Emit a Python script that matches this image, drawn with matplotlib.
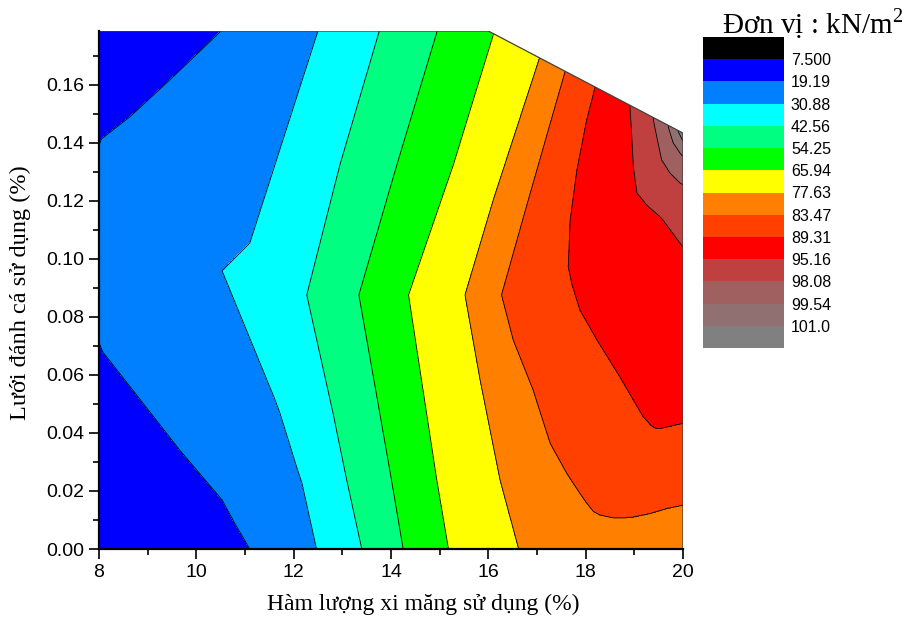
import numpy as np
import matplotlib
matplotlib.use("Agg")
from matplotlib import pyplot as plt
from matplotlib.patches import Polygon
from matplotlib.ticker import MultipleLocator, FormatStrFormatter

plt.rcParams['font.family'] = ['Liberation Sans', 'DejaVu Sans']
plt.rcParams['mathtext.fontset'] = 'custom'
plt.rcParams['mathtext.rm'] = 'Liberation Serif'

# contour levels (kN/m2) and fill colours (first one = below 7.5, last one = above 101)
levels = [7.5, 19.19, 30.88, 42.56, 54.25, 65.94, 77.63, 83.47, 89.31, 95.16, 98.08, 99.54, 101.0]
colors = ['#000000', '#0000ff', '#0080ff', '#00ffff', '#00ff80', '#00ff00', '#ffff00',
          '#ff8000', '#ff4000', '#ff0000', '#c04040', '#a06060', '#907070', '#808080']

# outline of the measured area (cement %, fishing-net %)
area_x = [8, 20, 20, 16, 8]
area_y = [0, 0, 0.1434, 0.1786, 0.1786]

# where each level line crosses a row: y of the row, x of the crossing
# level 7.5 lies left of the chart everywhere
l19_y = [0, 0.0089, 0.0169, 0.0341, 0.0679, 0.075, 0.10, 0.135, 0.1414, 0.1491, 0.1629, 0.1788, 0.19]
l19_x = [11.10, 10.79, 10.53, 9.66, 8.08, 7.90, 7.85, 7.90, 8.05, 8.64, 9.53, 10.52, 11.2]
l30_y = [0, 0.0228, 0.0284, 0.0468, 0.0514, 0.0959, 0.1055, 0.1786, 0.19]
l30_x = [12.47, 12.17, 12.06, 11.72, 11.62, 10.53, 11.10, 12.50, 12.72]
l42_y = [0, 0.0238, 0.0468, 0.0876, 0.1324, 0.1786, 0.19]
l42_x = [13.40, 13.09, 12.81, 12.27, 12.95, 13.76, 13.96]
l54_y = [0, 0.0238, 0.0468, 0.0876, 0.1324, 0.1786, 0.19]
l54_x = [14.25, 14.01, 13.77, 13.34, 14.12, 14.95, 15.15]
l65_y = [0, 0.0238, 0.0468, 0.0876, 0.1324, 0.1772, 0.19]
l65_x = [15.18, 14.94, 14.73, 14.36, 15.28, 16.10, 16.35]
l77_y = [0, 0.0238, 0.0583, 0.0876, 0.1203, 0.1692, 0.19]
l77_x = [16.62, 16.24, 15.83, 15.52, 16.10, 17.05, 17.45]
l83_y = [0, 0.0100, 0.0106, 0.0117, 0.0129, 0.0158, 0.0192, 0.0261, 0.0364, 0.0548, 0.0721, 0.0876, 0.1203, 0.1642, 0.19]
l83_x = [21, 21, 18.60, 18.29, 18.16, 18.02, 17.88, 17.61, 17.27, 16.92, 16.51, 16.27, 16.82, 17.57, 18.0]
l89_y = [0, 0.0410, 0.0415, 0.0425, 0.0456, 0.0594, 0.0721, 0.0824, 0.0916, 0.0973, 0.1134, 0.1307, 0.1479, 0.1589, 0.19]
l89_x = [22, 22, 19.45, 19.35, 19.18, 18.70, 18.23, 17.88, 17.71, 17.64, 17.68, 17.82, 18.02, 18.19, 18.7]
l95_y = [0, 0.1030, 0.1041, 0.1054, 0.1140, 0.1186, 0.1228, 0.1318, 0.1445, 0.1523, 0.19]
l95_x = [23, 23, 20.0, 19.94, 19.56, 19.25, 19.05, 18.98, 18.94, 18.91, 18.95]
l98_y = [0, 0.1240, 0.1255, 0.1261, 0.1296, 0.1341, 0.1422, 0.1479, 0.19]
l98_x = [24, 24, 20.0, 19.94, 19.73, 19.56, 19.46, 19.39, 19.35]
l99_y = [0, 0.1340, 0.1353, 0.1364, 0.1399, 0.1454, 0.19]
l99_x = [25, 25, 20.0, 19.94, 19.80, 19.70, 19.65]
l101_y = [0, 0.1395, 0.1405, 0.1440, 0.19]
l101_x = [26, 26, 20.0, 19.90, 19.85]

# lower edge of the 83.47 and 89.31 bands near the right side (x, y)
b83_x = [8, 18.4, 18.6, 18.98, 19.32, 19.66, 20.0, 21]
b83_y = [-0.3, -0.3, 0.0106, 0.0111, 0.0123, 0.0140, 0.0152, 0.016]
b89_x = [8, 19.2, 19.45, 19.53, 20.0, 21]
b89_y = [0.02, 0.02, 0.0416, 0.0416, 0.0434, 0.044]

row_knots = [(l19_y, l19_x), (l30_y, l30_x), (l42_y, l42_x), (l54_y, l54_x), (l65_y, l65_x),
             (l77_y, l77_x), (l83_y, l83_x), (l89_y, l89_x), (l95_y, l95_x), (l98_y, l98_x),
             (l99_y, l99_x), (l101_y, l101_x)]

# build the value grid
gx = np.linspace(8, 20, 1201)
gy = np.linspace(0, 0.1786, 900)
Z1 = np.zeros((len(gy), len(gx)))
for i, yy in enumerate(gy):
    xs = [0, 5] + [np.interp(yy, ky, kx) for ky, kx in row_knots] + [40]
    Z1[i] = np.interp(gx, xs, [0] + levels + [200])
Z2 = np.zeros_like(Z1)
for j, xx in enumerate(gx):
    ys = [-1, np.interp(xx, b83_x, b83_y), np.interp(xx, b89_x, b89_y), 0.5]
    Z2[:, j] = np.interp(gy, ys, [80, 83.47, 89.31, 1000])
Z = np.minimum(Z1, Z2)

fig = plt.figure(figsize=(9.08, 6.21), dpi=100)
ax = fig.add_axes([99 / 908, 1 - 549 / 621, 584 / 908, 518 / 621])

# filled contours + black lines, cut to the measured area
area = Polygon(np.column_stack([area_x, area_y]), closed=True, transform=ax.transData)
cs = ax.contourf(gx, gy, Z, levels=[0] + levels + [200], colors=colors)
cl = ax.contour(gx, gy, Z, levels=levels, colors='k', linewidths=0.6)
cs.set_clip_path(area)
cl.set_clip_path(area)
ax.add_patch(Polygon(np.column_stack([area_x, area_y]), closed=True, fill=False,
                     edgecolor='#404040', lw=0.9, zorder=4))

ax.set_xlim(8, 20)
ax.set_ylim(0, 0.1786)
ax.spines['top'].set_visible(False)
ax.spines['right'].set_visible(False)
for s in ['left', 'bottom']:
    ax.spines[s].set_linewidth(1.6)
    ax.spines[s].set_zorder(6)
ax.xaxis.set_major_locator(MultipleLocator(2))
ax.xaxis.set_minor_locator(MultipleLocator(1))
ax.yaxis.set_major_locator(MultipleLocator(0.02))
ax.yaxis.set_minor_locator(MultipleLocator(0.01))
ax.yaxis.set_major_formatter(FormatStrFormatter('%.2f'))
ax.tick_params(which='major', direction='out', length=7, width=1.2, labelsize=14, pad=3.5)
ax.tick_params(which='minor', direction='out', length=4.5, width=1.2)

serif = ['Liberation Serif', 'DejaVu Serif']
fig.text(423 / 908, 1 - 610 / 621, 'Hàm lượng xi măng sử dụng (%)', family=serif,
         fontsize=17, ha='center', va='baseline')
fig.text(20 / 908, 1 - 293 / 621, 'Lưới đánh cá sử dụng (%)', family=serif,
         fontsize=17.5, ha='center', va='center', rotation=90)

# colour scale
cax = fig.add_axes([702.5 / 908, 1 - 348 / 621, 81.5 / 908, 311 / 621])
cb = fig.colorbar(cs, cax=cax, spacing='uniform')
cb.outline.set_visible(False)
cb.set_ticks(levels)
cb.set_ticklabels([f"{v:#.4g}" for v in levels])
cax.invert_yaxis()
cax.minorticks_off()
cax.tick_params(length=0, labelsize=11.5, pad=5)
fig.text(722 / 908, 1 - 33 / 621, r'Đơn vị : kN/m$^{2}$', family=serif, fontsize=21,
         ha='left', va='baseline')

fig.savefig('out.png', dpi=100)
